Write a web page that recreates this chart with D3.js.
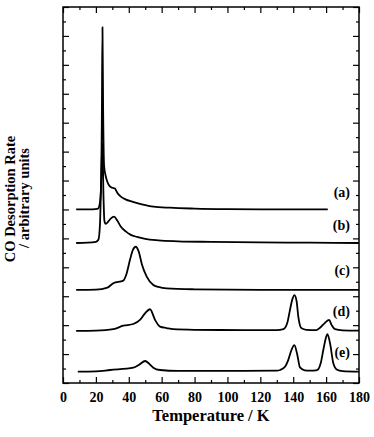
<!DOCTYPE html>
<html>
<head>
<meta charset="utf-8">
<script src="https://cdn.jsdelivr.net/npm/d3@7"></script>
<style>
  body { margin: 0; background: #fff; }
  svg { display: block; }
  text { font-family: "Liberation Serif", "Times New Roman", serif; font-weight: bold; fill: #000; }
</style>
</head>
<body>
<script>
// data (temperature in K, rate in arbitrary offset units)
const tempA = [8, 15, 21, 22, 23, 23.6, 24, 24.4, 25, 26, 27, 28.5, 30, 31.5, 33, 35, 38, 42, 48, 55, 65, 80, 100, 130, 161];
const rateA = [6.0, 6.0, 6.02, 6.1, 6.6, 9.0, 12.3, 9.5, 7.5, 7.15, 6.95, 6.8, 6.75, 6.73, 6.58, 6.45, 6.35, 6.27, 6.18, 6.1, 6.06, 6.03, 6.01, 6.0, 6.0];

const tempB = [8, 15, 20, 21.5, 22.5, 23.2, 24, 24.6, 25.2, 26, 27.5, 29, 31, 33, 35, 38, 41, 45, 50, 58, 70, 90, 120, 150, 180];
const rateB = [4.84, 4.85, 4.88, 4.95, 5.5, 7.0, 8.3, 6.5, 5.6, 5.5, 5.58, 5.68, 5.75, 5.62, 5.42, 5.25, 5.13, 5.05, 4.98, 4.93, 4.9, 4.88, 4.86, 4.85, 4.84];

const tempC = [8, 20, 27, 30.6, 36.7, 38.5, 40.7, 42.5, 44.2, 46, 48, 50.9, 54.9, 58, 63, 80, 120, 180];
const rateC = [3.22, 3.23, 3.3, 3.45, 3.54, 3.75, 4.25, 4.6, 4.71, 4.55, 4.1, 3.68, 3.39, 3.32, 3.27, 3.24, 3.22, 3.22];

const tempD = [8, 20, 30.6, 36.7, 42.8, 46.8, 50, 52.9, 56, 59, 63, 67, 80, 110, 130, 134, 136.5, 138, 139.5, 140.7, 142, 143.1, 145.1, 148, 154, 156.3, 159.3, 161.8, 163.4, 165.4, 170, 180];
const rateD = [1.80, 1.81, 1.86, 1.98, 2.04, 2.18, 2.42, 2.55, 2.18, 1.95, 1.9, 1.86, 1.84, 1.83, 1.83, 1.86, 2.1, 2.52, 2.9, 3.04, 2.85, 2.29, 1.89, 1.84, 1.83, 1.91, 2.08, 2.18, 2.0, 1.86, 1.82, 1.81];

const tempE = [9, 20, 28.6, 42.8, 46.5, 49.9, 52.5, 54.9, 59, 70, 100, 130, 132, 135, 137, 139, 140.7, 142.5, 144.1, 147, 150, 154, 155.3, 156.7, 158.3, 159.8, 160.8, 162.4, 164.4, 166.4, 170, 180];
const rateE = [0.39, 0.40, 0.45, 0.53, 0.64, 0.76, 0.66, 0.53, 0.45, 0.42, 0.42, 0.43, 0.45, 0.56, 0.8, 1.15, 1.31, 0.97, 0.54, 0.44, 0.43, 0.44, 0.48, 0.68, 1.14, 1.55, 1.69, 1.37, 0.68, 0.47, 0.41, 0.39];

const curveLabels = ['(a)', '(b)', '(c)', '(d)', '(e)'];
const labelLevels = [6.6, 5.46, 3.9, 2.5, 1.08];

const xTicks = d3.range(0, 181, 20);
const xMinorTicks = d3.range(0, 181, 10);
const yMinorTicks = d3.range(0, 13.01, 0.5);

const W = 374, H = 437;
const margin = { top: 7, right: 15, bottom: 54, left: 63 };
const width = W - margin.left - margin.right;
const height = H - margin.top - margin.bottom;

const svg = d3.select('body').append('svg')
  .attr('width', W)
  .attr('height', H);

const g = svg.append('g')
  .attr('transform', 'translate(' + margin.left + ',' + margin.top + ')');

const x = d3.scaleLinear().domain([0, 180]).range([0, width]);
const y = d3.scaleLinear().domain([0, 13]).range([height, 0]);

// inward ticks on all four sides
const isMajorX = v => v % 20 === 0;
const isMajorY = v => Math.abs(v - Math.round(v)) < 1e-6;

g.append('g')
  .attr('transform', 'translate(0,' + height + ')')
  .call(d3.axisBottom(x).tickValues(xMinorTicks).tickSize(0).tickFormat(''))
  .call(a => a.select('.domain').remove())
  .selectAll('.tick line')
  .attr('y2', d => isMajorX(d) ? -6 : -3)
  .attr('stroke', '#000').attr('stroke-width', 1.2);

g.append('g')
  .call(d3.axisTop(x).tickValues(xMinorTicks).tickSize(0).tickFormat(''))
  .call(a => a.select('.domain').remove())
  .selectAll('.tick line')
  .attr('y2', d => isMajorX(d) ? 6 : 3)
  .attr('stroke', '#000').attr('stroke-width', 1.2);

g.append('g')
  .call(d3.axisLeft(y).tickValues(yMinorTicks).tickSize(0).tickFormat(''))
  .call(a => a.select('.domain').remove())
  .selectAll('.tick line')
  .attr('x2', d => isMajorY(d) ? 6 : 3)
  .attr('stroke', '#000').attr('stroke-width', 1.2);

g.append('g')
  .attr('transform', 'translate(' + width + ',0)')
  .call(d3.axisRight(y).tickValues(yMinorTicks).tickSize(0).tickFormat(''))
  .call(a => a.select('.domain').remove())
  .selectAll('.tick line')
  .attr('x2', d => isMajorY(d) ? -6 : -3)
  .attr('stroke', '#000').attr('stroke-width', 1.2);

// tick labels
g.append('g')
  .attr('transform', 'translate(0,' + height + ')')
  .call(d3.axisBottom(x).tickValues(xTicks).tickSize(0).tickPadding(9))
  .call(a => a.select('.domain').remove())
  .selectAll('text')
  .style('font-family', '"Liberation Serif", serif')
  .style('font-weight', 'bold')
  .style('font-size', '14px');

// frame
g.append('rect')
  .attr('width', width)
  .attr('height', height)
  .attr('fill', 'none')
  .attr('stroke', '#000')
  .attr('stroke-width', 1.5);

// curves
const line = d3.line()
  .x(d => x(d[0]))
  .y(d => y(d[1]))
  .curve(d3.curveMonotoneX);

const series = [
  d3.zip(tempA, rateA),
  d3.zip(tempB, rateB),
  d3.zip(tempC, rateC),
  d3.zip(tempD, rateD),
  d3.zip(tempE, rateE)
];

g.selectAll('path.curve')
  .data(series)
  .enter()
  .append('path')
  .attr('class', 'curve')
  .attr('d', line)
  .attr('fill', 'none')
  .attr('stroke', '#000')
  .attr('stroke-width', 1.8)
  .attr('stroke-linejoin', 'round');

// curve labels
g.selectAll('text.lbl')
  .data(curveLabels)
  .enter()
  .append('text')
  .attr('class', 'lbl')
  .attr('x', x(174.5))
  .attr('y', (d, i) => y(labelLevels[i]))
  .attr('dy', '0.35em')
  .attr('text-anchor', 'end')
  .style('font-size', '14px')
  .text(d => d);

// axis titles
svg.append('text')
  .attr('x', margin.left + width / 2)
  .attr('y', 421)
  .attr('text-anchor', 'middle')
  .style('font-size', '16.5px')
  .text('Temperature / K');

svg.append('text')
  .attr('transform', 'translate(15,199) rotate(-90)')
  .attr('text-anchor', 'middle')
  .style('font-size', '14.5px')
  .text('CO Desorption Rate');

svg.append('text')
  .attr('transform', 'translate(29,198) rotate(-90)')
  .attr('text-anchor', 'middle')
  .style('font-size', '14.5px')
  .text('/ arbitrary units');
</script>
</body>
</html>
